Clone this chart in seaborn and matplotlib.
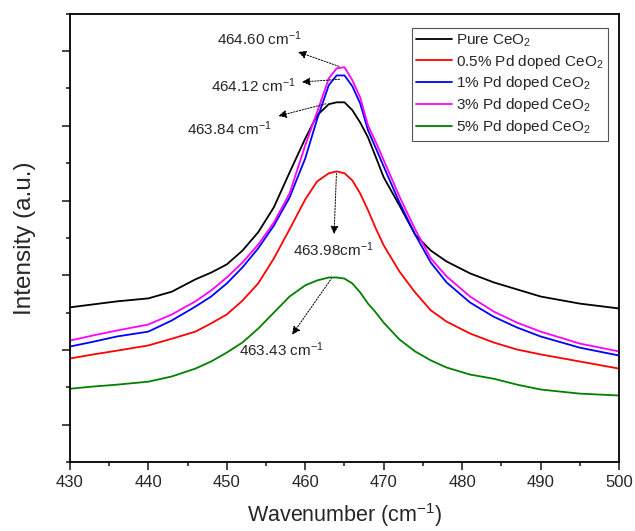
import pandas as pd
import matplotlib
matplotlib.use("Agg")
import matplotlib.pyplot as plt
from matplotlib.ticker import MultipleLocator
import seaborn as sns

# wavenumber grid (cm-1)
wavenumber = [430, 433, 436, 440, 443, 446, 448, 450, 452, 454, 456, 458, 460, 461.5,
              463, 464, 465, 466, 467, 468, 469, 470, 472, 474, 476, 478, 481, 484,
              487, 490, 495, 500]

pure = [314, 322, 330, 338, 356, 389, 407, 429, 466, 515, 582, 675, 766, 828,
        858, 863, 863, 842, 809, 769, 716, 662, 587, 509, 466, 437, 405, 381,
        362, 343, 324, 311]
pd05 = [177, 188, 198, 212, 230, 249, 271, 295, 332, 378, 445, 523, 603, 651,
        673, 678, 673, 654, 619, 574, 525, 480, 410, 354, 306, 276, 244, 220,
        201, 188, 169, 150]
pd1 = [209, 222, 236, 249, 279, 316, 343, 378, 421, 472, 533, 608, 713, 817,
       909, 935, 935, 906, 860, 788, 740, 691, 595, 509, 434, 381, 327, 289,
       260, 236, 206, 185]
pd3 = [225, 239, 252, 268, 295, 330, 359, 394, 434, 482, 541, 619, 748, 836,
       927, 954, 957, 922, 876, 801, 756, 708, 611, 523, 445, 397, 343, 303,
       273, 249, 217, 196]
pd5 = [96, 102, 107, 115, 129, 150, 169, 193, 220, 257, 300, 343, 373, 386,
       394, 394, 391, 378, 354, 324, 300, 273, 228, 196, 172, 153, 134, 123,
       107, 94, 83, 78]

labels = ["Pure CeO$_2$", "0.5% Pd doped CeO$_2$", "1% Pd doped CeO$_2$",
          "3% Pd doped CeO$_2$", "5% Pd doped CeO$_2$"]
colors = ["black", "#ff0000", "#0000ff", "#ff00ff", "#008000"]

# peak annotations: label, peak position, text position
peak_text = ["464.60 cm$^{-1}$", "464.12 cm$^{-1}$", "463.84 cm$^{-1}$",
             "463.98cm$^{-1}$", "463.43 cm$^{-1}$"]
peak_xy = [(464.6, 957), (464.6, 925), (462.8, 860), (463.98, 676), (463.43, 394)]
text_xy = [(454.2, 1034), (453.4, 908), (450.4, 793), (463.6, 469), (457.0, 201)]

frames = []
for lab, vals in zip(labels, [pure, pd05, pd1, pd3, pd5]):
    frames.append(pd.DataFrame({"wn": wavenumber, "I": vals, "sample": lab}))
df = pd.concat(frames, ignore_index=True)

sns.set_theme(style="ticks")
plt.rcParams["font.family"] = ["Liberation Sans", "DejaVu Sans"]
plt.rcParams["mathtext.default"] = "regular"

fig = plt.figure(figsize=(6.35, 5.31), dpi=100)
ax = fig.add_axes([0.110, 0.130, 0.865, 0.844])

sns.lineplot(data=df, x="wn", y="I", hue="sample", hue_order=labels,
             palette=colors, linewidth=1.3, ax=ax)

for t, p, tp in zip(peak_text, peak_xy, text_xy):
    ax.annotate(t, xy=p, xytext=tp, fontsize=11, ha="center", va="center",
                arrowprops=dict(arrowstyle="<|-", color="black", lw=0.7,
                                linestyle=(0, (1.5, 1.5)), mutation_scale=12,
                                shrinkA=2, shrinkB=1))

ax.set_xlim(430, 500)
ax.set_ylim(-100, 1100)
ax.xaxis.set_major_locator(MultipleLocator(10))
ax.xaxis.set_minor_locator(MultipleLocator(5))
ax.yaxis.set_major_locator(MultipleLocator(200))
ax.yaxis.set_minor_locator(MultipleLocator(100))
ax.tick_params(axis="both", which="major", length=6, width=1.2, labelsize=12, direction="out")
ax.tick_params(axis="both", which="minor", length=3, width=1.2, direction="out")
ax.set_yticklabels([])
for s in ax.spines.values():
    s.set_linewidth(1.3)
    s.set_color("black")

ax.set_xlabel("Wavenumber (cm$^{-1}$)", fontsize=15.5, labelpad=8)
ax.set_ylabel("Intensity (a.u.)", fontsize=17.5, labelpad=15)

leg = ax.legend(loc="upper right", bbox_to_anchor=(0.98, 0.969), fontsize=11,
                frameon=True, fancybox=False, framealpha=1, edgecolor="#555555",
                handlelength=2.3, handletextpad=0.3, labelspacing=0.25,
                borderpad=0.3, borderaxespad=0, title=None)
leg.get_frame().set_linewidth(0.8)

fig.savefig("out.png", dpi=100)
